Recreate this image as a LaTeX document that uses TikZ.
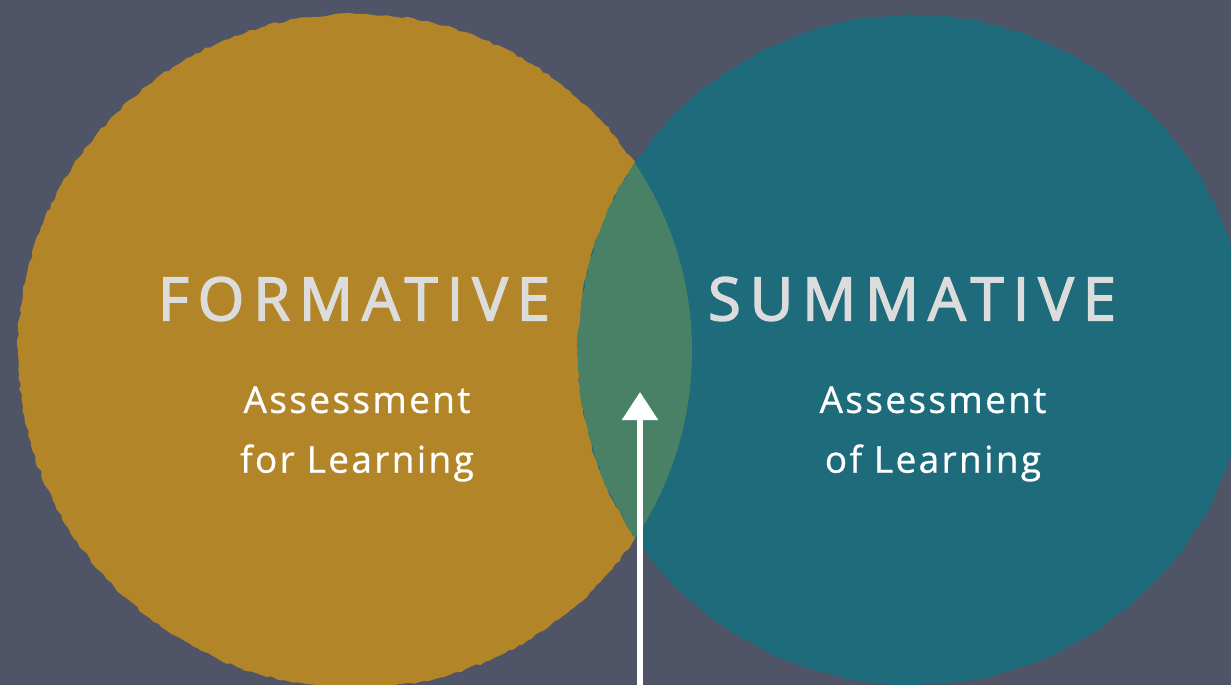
\documentclass[tikz,border=0pt]{standalone}
\usepackage{fontspec}
\setmainfont{Open Sans}
\newfontfamily\chalkfont[LetterSpace=15, FakeBold=2.5]{Open Sans}
\newfontfamily\chalksub[LetterSpace=6.5, FakeBold=0.8]{Open Sans}
\usetikzlibrary{arrows.meta, decorations.pathmorphing}
\definecolor{slate}{HTML}{4F5466}
\definecolor{mustard}{HTML}{B28628}
\definecolor{teal}{HTML}{1E6B7B}
\definecolor{overlap}{HTML}{488166}
\definecolor{chalkgrey}{HTML}{DCDCDC}

\begin{document}
\begin{tikzpicture}[x=0.2mm, y=-0.2mm,
  blob/.style={decorate, decoration={random steps, segment length=3pt, amplitude=0.7pt}},
  title/.style={text=chalkgrey, font=\chalkfont\fontsize{34}{36}\selectfont},
  sub/.style={text=white, align=center, font=\chalksub\fontsize{21}{34}\selectfont},
  chalkline/.style={draw=white, line width=3.2pt}]
  \useasboundingbox (0,0) rectangle (1231,685);
  \clip (0,0) rectangle (1231,685);
  \fill[slate] (0,0) rectangle (1231,685);

  % the two circles and their overlap
  \fill[mustard, blob] (355,351) circle[radius=337];
  \fill[teal, blob] (913,350) circle[radius=335];
  \begin{scope}
    \clip (355,351) circle[radius=337];
    \fill[overlap, blob] (913,350) circle[radius=335];
  \end{scope}

  % labels
  \node[title] (formative) at (354,299) {FORMATIVE};
  \node[sub] (forlearning) at (357,434) {Assessment\\for Learning};
  \node[title] (summative) at (912,299) {SUMMATIVE};
  \node[sub] (oflearning) at (933,434) {Assessment\\of Learning};

  % arrow into the overlap
  \coordinate (base) at (640,690);
  \coordinate (tip) at (640,392);
  \draw[chalkline, -{Triangle[width=20pt, length=16pt]}] (base) -- (tip);
\end{tikzpicture}
\end{document}
